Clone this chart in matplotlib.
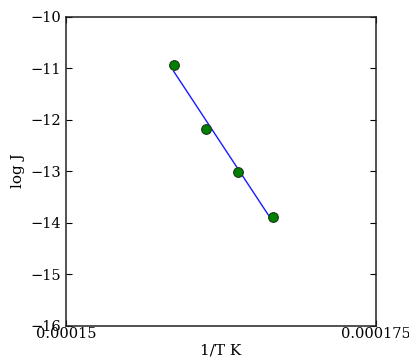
import numpy as np
import matplotlib
matplotlib.use("Agg")
import matplotlib.pyplot as plt

# ── Data ──────────────────────────────────────────────────
inv_T = [0.0001587, 0.0001613, 0.0001639, 0.0001667]
log_J = [-10.93, -12.18, -13.02, -13.89]
fit_x = [0.0001587, 0.0001664]

x_ticks = [0.00015, 0.000175]
x_tick_labels = ["0.00015", "0.000175"]
y_ticks = [-16, -15, -14, -13, -12, -11, -10]

# ── Linear fit ────────────────────────────────────────────
slope, icept = np.polyfit(inv_T, log_J, 1)
fit_y = [slope * x + icept for x in fit_x]

plt.rcParams["font.family"] = "DejaVu Serif"
plt.rcParams["axes.unicode_minus"] = True

fig = plt.figure(figsize=(4.10, 3.61), dpi=100)
ax = fig.add_axes([0.161, 0.098, 0.755, 0.856])

ax.plot(fit_x, fit_y, color="#1a1aff", linewidth=1.0)
ax.plot(inv_T, log_J, "o", color="#007f00", markeredgecolor="#1a3a1a",
        markeredgewidth=0.8, markersize=7)

ax.set_xlim(0.00015, 0.000175)
ax.set_ylim(-16, -10)
ax.set_xticks(x_ticks)
ax.set_xticklabels(x_tick_labels)
ax.set_yticks(y_ticks)
ax.tick_params(direction="in", top=True, right=True, length=4, labelsize=10.5)
ax.tick_params(axis="x", pad=1)
for s in ax.spines.values():
    s.set_linewidth(1.1)
    s.set_color("#222222")

ax.set_xlabel("1/T K", fontsize=11, labelpad=2)
ax.set_ylabel("log J", fontsize=11)

fig.savefig("out.png", dpi=100)
